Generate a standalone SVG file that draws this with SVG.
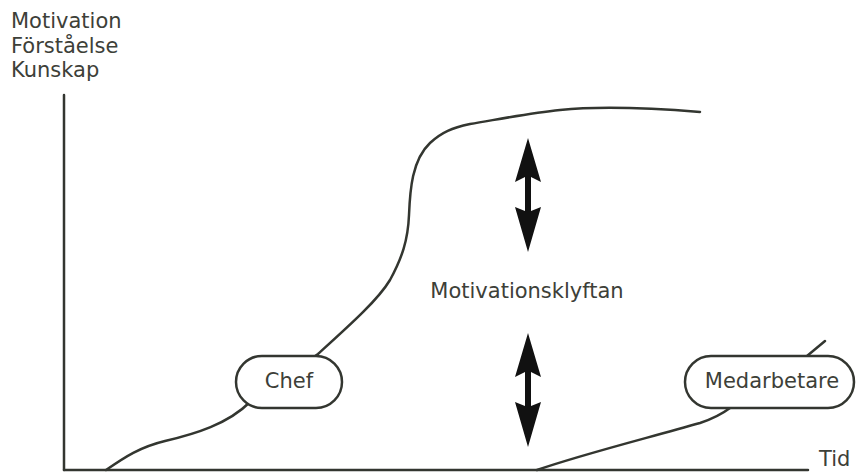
<svg xmlns="http://www.w3.org/2000/svg" xmlns:xlink="http://www.w3.org/1999/xlink" width="857" height="472" viewBox="0 0 857 472">
<style>
.t{font-family:"DejaVu Sans","Open Sans",sans-serif;fill:#3d4038;font-size:21px;}
.ln{fill:none;stroke:#333630;stroke-width:2.5;stroke-linecap:round;}
.box{fill:#fff;stroke:#333630;stroke-width:2.5;}
.arr{fill:#111;}
</style>
<defs>
<path id="dbl" d="M0,0 L13,44 L3,39 L3,73 L13,69 L0,114 L-13,69 L-3,73 L-3,39 L-13,44 Z"/>
</defs>
<rect width="857" height="472" fill="#fff"/>
<g id="axes">
<line class="ln" x1="64" y1="95" x2="64" y2="470"/>
<line class="ln" x1="64" y1="470" x2="808" y2="470"/>
<text class="t" x="11" y="28">Motivation</text>
<text class="t" x="11" y="52.5">Förståelse</text>
<text class="t" x="11" y="77">Kunskap</text>
<text class="t" x="819" y="466">Tid</text>
</g>
<g id="connectors">
<path class="ln" d="M106,470 C125,457 140,447 165,441 C195,434 228,424 250,402 L318,354 C350,325 378,300 390,280 C402,258 408,240 409,215 C410,190 412,160 430,143 C442,132 452,128 470,124 C500,119 530,113 560,110 C600,106 650,108 700,112"/>
<path class="ln" d="M537,470 C580,455 640,440 700,423 C715,418 722,414 730,408 L807,356 L825,341"/>
</g>
<g id="chef">
<rect class="box" x="236" y="356" width="106" height="52" rx="26"/>
<text class="t" x="289" y="388" text-anchor="middle">Chef</text>
</g>
<g id="medarbetare">
<rect class="box" x="685" y="356" width="169" height="52" rx="26"/>
<text class="t" x="772" y="388" text-anchor="middle">Medarbetare</text>
</g>
<g id="gap">
<use xlink:href="#dbl" class="arr" transform="translate(528,138)"/>
<use xlink:href="#dbl" class="arr" transform="translate(528,333)"/>
<text class="t" x="527" y="298" text-anchor="middle">Motivationsklyftan</text>
</g>
</svg>
